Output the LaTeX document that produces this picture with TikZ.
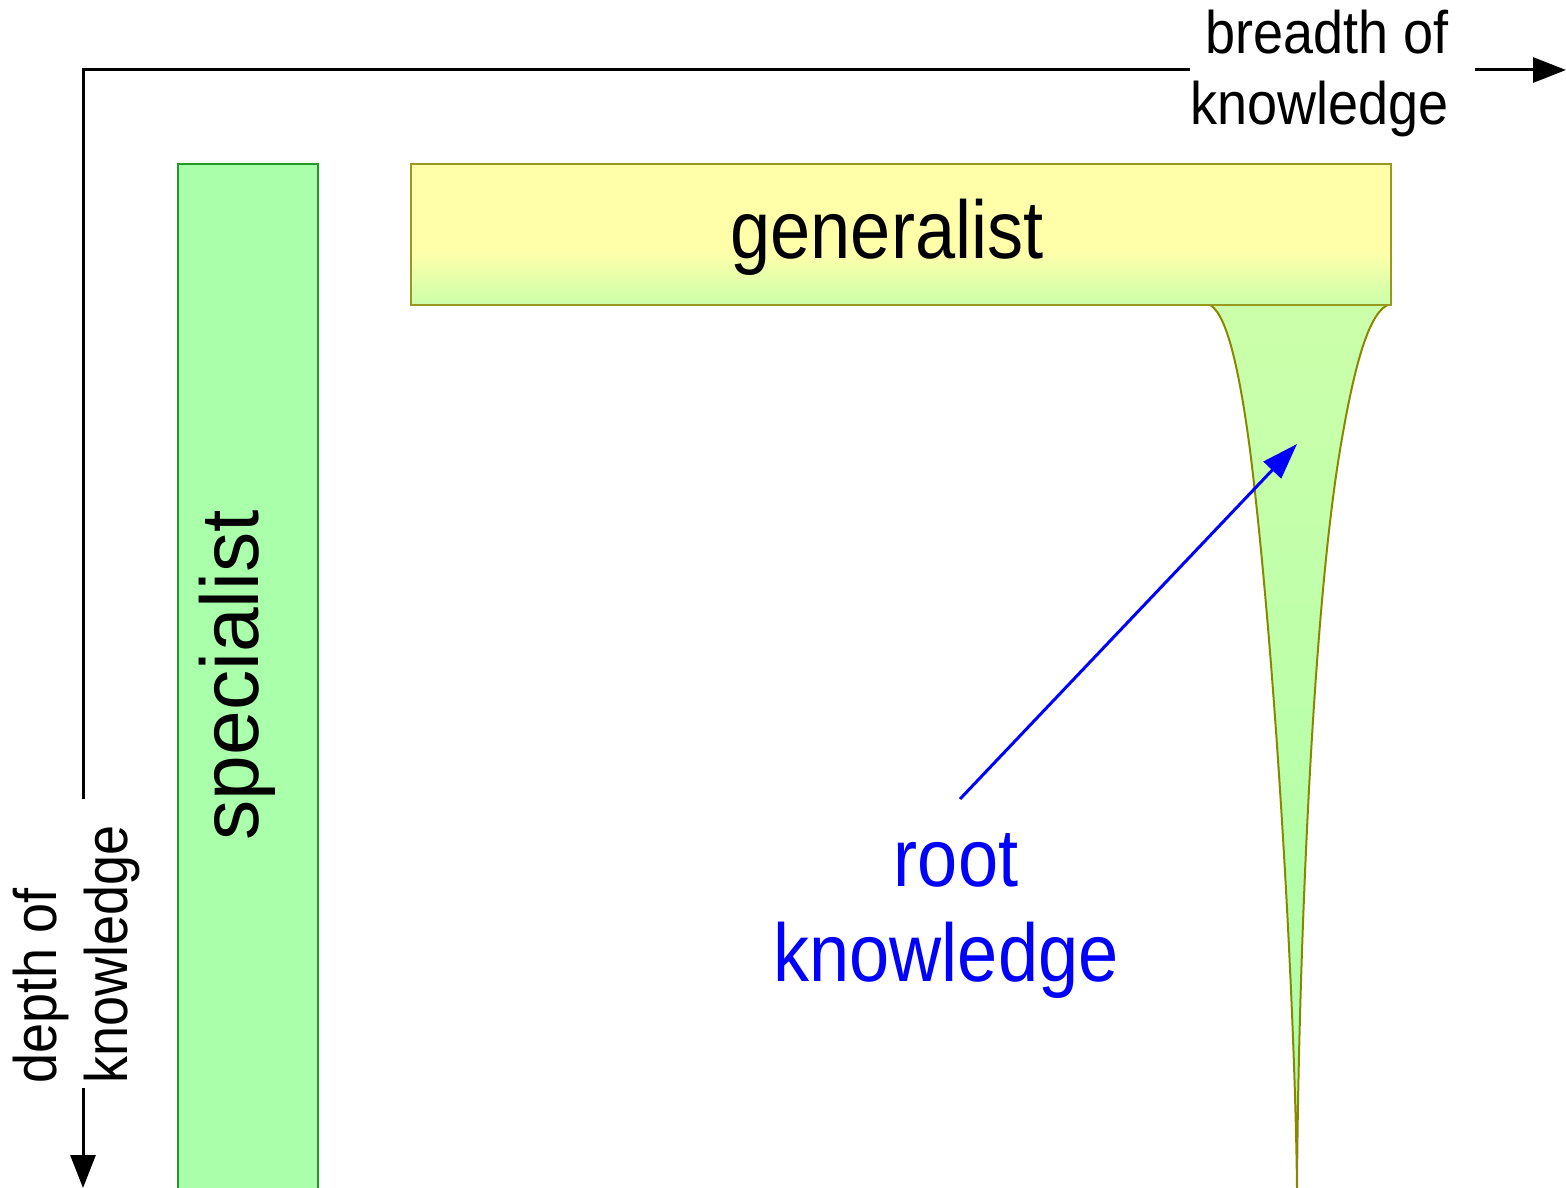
\documentclass[tikz,border=0pt]{standalone}
\usepackage{fontspec}
\setmainfont{Liberation Sans}[FakeStretch=0.9]
\newfontfamily\genfont{Liberation Sans}[FakeStretch=0.88]
\newfontfamily\specfont{Liberation Sans}[FakeStretch=0.98]
\usetikzlibrary{arrows.meta}
\definecolor{specgreen}{HTML}{AAFFAA}
\definecolor{specedge}{HTML}{229922}
\definecolor{genyellow}{HTML}{FFFFAA}
\definecolor{gengreen}{HTML}{CCFFAA}
\definecolor{genedge}{HTML}{999922}
\definecolor{rootedge}{HTML}{888800}
\pgfdeclareverticalshading{genshade}{100bp}{color(0bp)=(gengreen); color(25bp)=(gengreen); color(44bp)=(genyellow); color(100bp)=(genyellow)}
\tikzset{
	axis/.style={line width=3pt, black},
	axisarrow/.style={axis, -{Triangle[length=33pt, width=25pt]}},
	rootarrow/.style={blue, line width=3pt, -{Triangle[length=36pt, width=24pt]}},
	specbox/.style={draw=specedge, fill=specgreen, line width=2pt, inner sep=0pt},
	genbox/.style={draw=genedge, shading=genshade, line width=2pt, inner sep=0pt},
	rootfill/.style={draw=rootedge, top color=gengreen, bottom color=specgreen, line width=2pt},
	bigtext/.style={inner sep=0pt, font=\genfont\fontsize{82}{95}\selectfont},
	smalltext/.style={inner sep=0pt, font=\fontsize{60}{71}\selectfont}
}
\begin{document}
\begin{tikzpicture}[x=1pt, y=-1pt]
	\useasboundingbox (0,0) rectangle (1566,1188);
	\coordinate (origin) at (83,70);
	\coordinate (xend) at (1566,70);
	\coordinate (yend) at (83,1188);
	\coordinate (tail) at (960,799);
	\coordinate (tip) at (1297,444);

	\node[specbox, anchor=north west, minimum width=140pt, minimum height=1100pt] (specbox) at (177,163) {};
	\node[bigtext, font=\specfont\fontsize{82}{95}\selectfont, rotate=90, anchor=base] (spec) at (258,675) {specialist};

	\draw[rootfill] (1208,304) .. controls (1225,310) and (1238,360) .. (1250,450)
		.. controls (1275,650) and (1295,1000) .. (1297,1188)
		.. controls (1298,1000) and (1310,630) .. (1340,450)
		.. controls (1355,360) and (1370,310) .. (1390,304);

	\node[genbox, anchor=north west, minimum width=980pt, minimum height=141pt] (genbox) at (410,163) {};
	\node[bigtext, anchor=base] (gen) at (887,258) {generalist};

	\node[smalltext, align=right, anchor=south east] (breadth) at (1449,137) {breadth of\\knowledge};
	\node[smalltext, align=left, rotate=90, anchor=south west] (depth) at (140,1084) {depth of\\knowledge};
	\node[bigtext, blue, align=center, anchor=south] (rootlbl) at (946,999) {\ root\\knowledge};

	\draw[axis, shorten <=26pt] (depth.east -| origin) -- (origin) -- (breadth.west |- origin);
	\draw[axisarrow, shorten <=26pt] (breadth.east |- origin) -- (xend);
	\draw[axisarrow, shorten <=4pt] (depth.west -| origin) -- (yend);

	\draw[rootarrow] (tail) -- (tip);
\end{tikzpicture}
\end{document}
